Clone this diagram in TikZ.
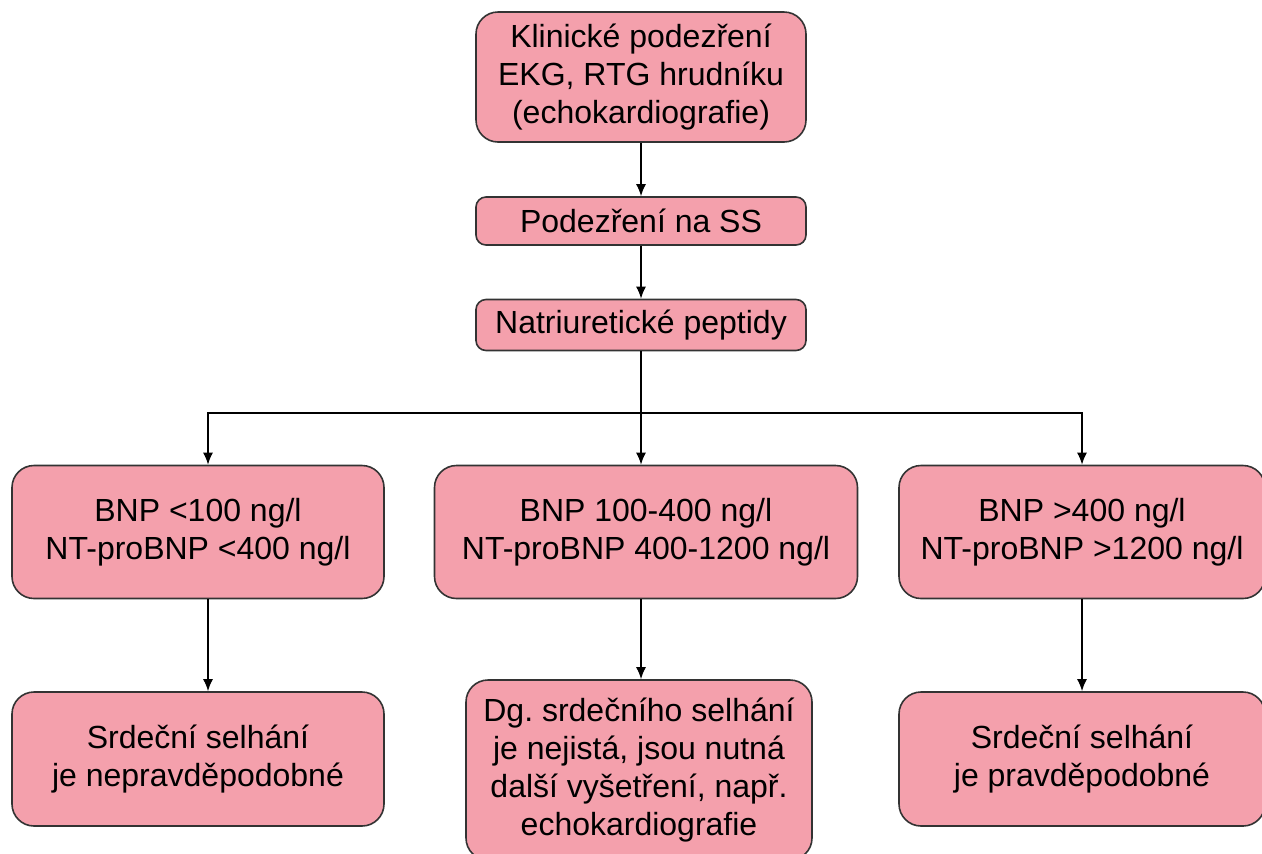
\documentclass[tikz,border=0pt]{standalone}
\usepackage{fontspec}
\setmainfont{Liberation Sans}
\usetikzlibrary{arrows.meta}
\definecolor{boxpink}{HTML}{F4A0AC}
\frenchspacing

\begin{document}
\begin{tikzpicture}[x=0.5pt, y=-0.5pt,
    box/.style={draw=black!80, fill=boxpink, line width=0.8pt, rounded corners=11pt,
                align=center, inner sep=0pt, font=\fontsize{16}{19}\selectfont},
    smallbox/.style={box, rounded corners=5pt, minimum width=165pt},
    arr/.style={-{Latex[length=6pt,width=5pt]}, line width=0.8pt}]

            \useasboundingbox (0,0) rectangle (1262,853);

            \node[box, minimum width=165pt, minimum height=65pt] (klin) at (641,77)
                {Klinické podezření\\EKG, RTG hrudníku\\(echokardiografie)};
            \node[smallbox, minimum height=24pt] (podez) at (641,221) {Podezření na SS};
            \node[smallbox, minimum height=25.5pt] (natr) at (641,325) {Natriuretické peptidy};

            \coordinate (split) at (641,413);

            \node[box, minimum width=186pt, minimum height=66.5pt] (lowbnp) at (198,532)
                {BNP <100 ng/l\\NT-proBNP <400 ng/l};
            \node[box, minimum width=211.5pt, minimum height=66.5pt] (midbnp) at (646,532)
                {BNP 100-400 ng/l\\NT-proBNP 400-1200 ng/l};
            \node[box, minimum width=183pt, minimum height=66.5pt] (highbnp) at (1082,532)
                {BNP >400 ng/l\\NT-proBNP >1200 ng/l};

            \node[box, minimum width=186pt, minimum height=67pt] (lowres) at (198,759)
                {Srdeční selhání\\je nepravděpodobné};
            \node[box, minimum width=173pt, minimum height=90pt] (midres) at (639,770)
                {Dg. srdečního selhání\\je nejistá, jsou nutná\\další vyšetření, např.\\echokardiografie};
            \node[box, minimum width=183pt, minimum height=67pt] (highres) at (1082,759)
                {Srdeční selhání\\je pravděpodobné};

            \draw[arr] (klin) -- (podez);
            \draw[arr] (podez) -- (natr);
            \draw[line width=0.8pt] (natr) -- (split);
            \draw[arr] (split) -| ([xshift=5pt]lowbnp.north);
            \draw[arr] (split) -| (highbnp);
            \draw[arr] (split) -- (split |- midbnp.north);

            \draw[arr] ([xshift=5pt]lowbnp.south) -- ([xshift=5pt]lowres.north);
            \draw[arr] (split |- midbnp.south) -- (split |- midres.north);
            \draw[arr] (highbnp) -- (highres);

        \end{tikzpicture}
\end{document}
